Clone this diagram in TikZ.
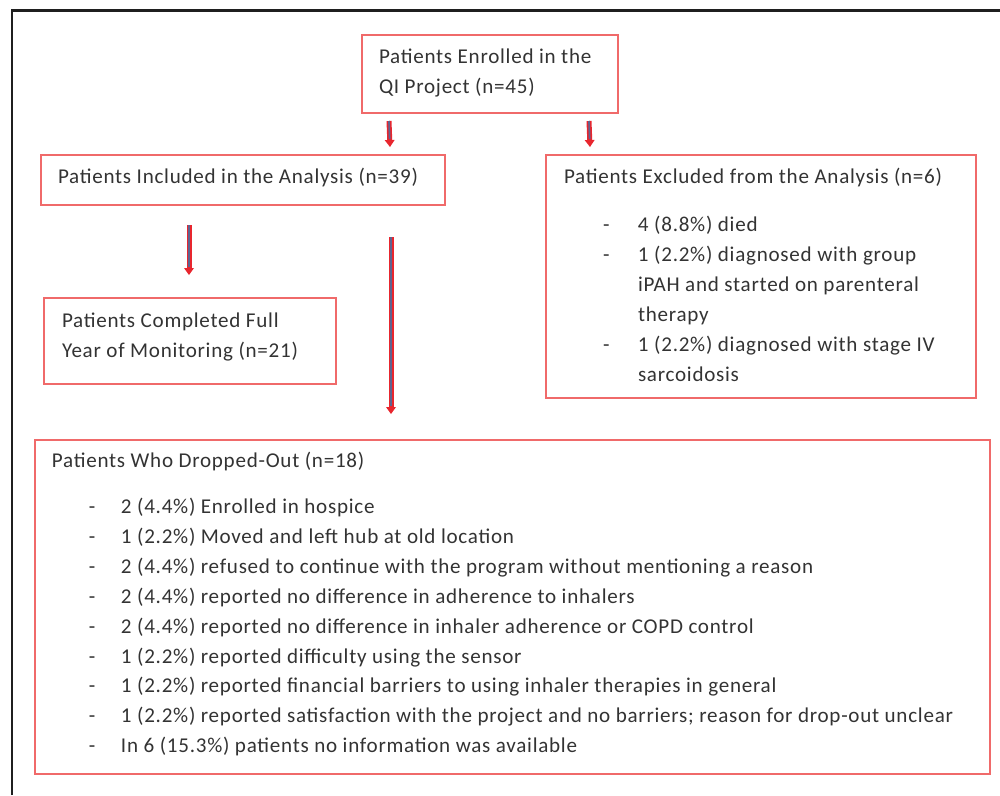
\documentclass[tikz,border=0pt]{standalone}
\usepackage{fontspec}
\setmainfont{Carlito}[LetterSpace=3.5]
\usetikzlibrary{arrows.meta,calc}

\definecolor{boxred}{HTML}{F06A6A}
\definecolor{arrowred}{HTML}{E8262E}
\definecolor{arrowblue}{HTML}{5E6490}
\definecolor{textgray}{HTML}{333333}

% one pixel of the 1000 x 795 layout
\newdimen\pxu \pxu=0.02cm

% box body: width, height, top gap, left gap, text
\newcommand{\boxtext}[5]{%
  \begin{minipage}[t][#2\pxu][t]{#1\pxu}%
  \vspace*{#3\pxu}\hspace*{#4\pxu}#5%
  \end{minipage}}
% dash of a list line: dash offset, text offset
\newcommand{\bul}[2]{\makebox[#2\pxu][l]{\hspace*{#1\pxu}-}}

\tikzset{
  flowbox/.style={draw=boxred, line width=0.04cm, inner sep=0pt, anchor=north west,
    font=\fontsize{12}{17}\selectfont, text=textgray},
}

% red block arrow with a slate core
\newcommand{\flowarrow}[2]{%
  \draw[arrowred, line width=0.1cm,
    -{Triangle[length=0.14cm, width=0.2cm, line width=0pt]}] #1 -- #2;
  \draw[arrowblue, line width=0.035cm, shorten >=0.16cm] #1 -- #2;}

\begin{document}
\begin{tikzpicture}[x=0.02cm, y=-0.02cm]
  \useasboundingbox (0,0) rectangle (1000,795);

  % --- frame (open at right and bottom) ---
  \draw[black!88, line width=0.06cm] (12,795) -- (12,10) -- (1000,10);

  % --- boxes ---
  \node[flowbox] (enrolled) at (361,34)
    {\boxtext{256}{78}{8}{17}{\begin{tabular}{@{}l@{}}
      Patients Enrolled in the\\
      QI Project (n=45)
    \end{tabular}}};

  \node[flowbox] (included) at (40,154)
    {\boxtext{404}{50}{8}{17}{\begin{tabular}{@{}l@{}}
      Patients Included in the Analysis (n=39)
    \end{tabular}}};

  \node[flowbox] (excluded) at (545,154)
    {\boxtext{430}{243}{8}{18}{\begin{tabular}{@{}l@{}}
      Patients Excluded from the Analysis (n=6)\\[18\pxu]
      \bul{39}{74}4 (8.8\%) died\\
      \bul{39}{74}1 (2.2\%) diagnosed with group\\
      \hspace*{74\pxu}iPAH and started on parenteral\\
      \hspace*{74\pxu}therapy\\
      \bul{39}{74}1 (2.2\%) diagnosed with stage IV\\
      \hspace*{74\pxu}sarcoidosis
    \end{tabular}}};

  \node[flowbox] (completed) at (43,297)
    {\boxtext{292}{86}{9}{18}{\begin{tabular}{@{}l@{}}
      Patients Completed Full\\
      Year of Monitoring (n=21)
    \end{tabular}}};

  \node[flowbox] (dropped) at (34,439)
    {\boxtext{955}{334}{7}{17}{\begin{tabular}{@{}l@{}}
      Patients Who Dropped-Out (n=18)\\[16\pxu]
      \bul{37}{69}2 (4.4\%) Enrolled in hospice\\
      \bul{37}{69}1 (2.2\%) Moved and left hub at old location\\
      \bul{37}{69}2 (4.4\%) refused to continue with the program without mentioning a reason\\
      \bul{37}{69}2 (4.4\%) reported no difference in adherence to inhalers\\
      \bul{37}{69}2 (4.4\%) reported no difference in inhaler adherence or COPD control\\
      \bul{37}{69}1 (2.2\%) reported difficulty using the sensor\\
      \bul{37}{69}1 (2.2\%) reported financial barriers to using inhaler therapies in general\\
      \bul{37}{69}1 (2.2\%) reported satisfaction with the project and no barriers; reason for drop-out unclear\\
      \bul{37}{69}In 6 (15.3\%) patients no information was available
    \end{tabular}}};

  % --- arrows ---
  \flowarrow{($(enrolled.south west)+(28,7)$)}{($(included.north west)+(350,-7)$)}
  \flowarrow{($(enrolled.south west)+(228,7)$)}{($(excluded.north west)+(45,-7)$)}
  \flowarrow{($(included.south west)+(149,19)$)}{($(completed.north west)+(146,-22)$)}
  \flowarrow{($(included.south west)+(351,31)$)}{($(dropped.north west)+(357,-25)$)}

\end{tikzpicture}
\end{document}
